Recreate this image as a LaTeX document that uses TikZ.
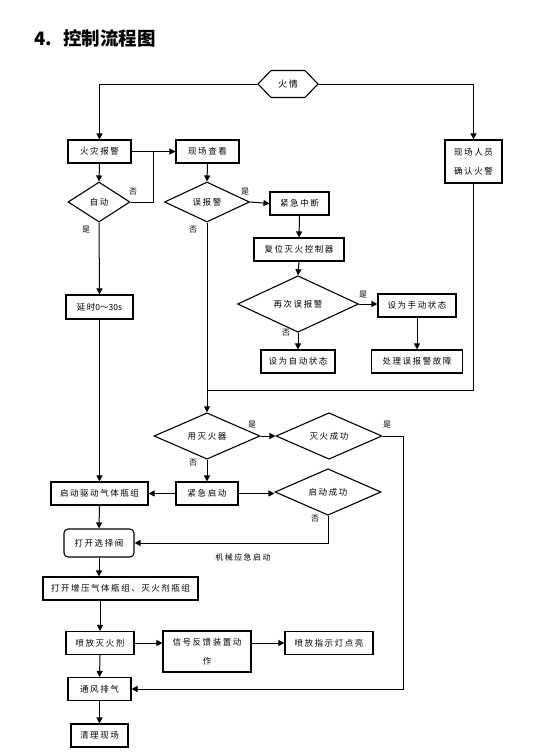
\documentclass[tikz,border=0pt]{standalone}
\usepackage{fontspec}
\setmainfont{Noto Sans CJK SC}
\newfontfamily\boxfont[LetterSpace=18]{Noto Sans CJK SC}
\usetikzlibrary{shapes.geometric,shapes.symbols,arrows.meta}
\tikzset{
	box/.style={draw, line width=1.1pt, inner sep=0pt, minimum height=23pt, align=center, font=\boxfont\fontsize{8.5}{19}\selectfont},
	choice/.style={draw, diamond, line width=1.1pt, inner sep=0pt, font=\boxfont\fontsize{8.5}{10}\selectfont},
	flow/.style={line width=1pt, -{Triangle[length=6pt,width=6pt]}},
	wire/.style={line width=1pt},
	tag/.style={inner sep=0pt, font=\boxfont\fontsize{8}{8}\selectfont}
}

\begin{document}
\begin{tikzpicture}[x=1pt, y=-1pt]
			%%%%% START %%%%%
			\useasboundingbox[fill=white] (0, 0) rectangle (557, 755);
			
			\node[anchor=west, font=\bfseries\fontsize{18.5}{18.5}\selectfont] (title) at (31, 38) {4.\hspace{11pt}控制流程图};
			
			\node[draw, signal, signal to=west and east, signal pointer angle=92, line width=1.1pt, inner sep=0pt, minimum width=60pt, minimum height=27pt, font=\boxfont\fontsize{9}{10}\selectfont] (fire) at (288, 84) {火情};
			
			\node[box, minimum width=63pt] (alarm) at (99.5, 151.5) {火灾报警};
			\node[box, minimum width=63pt] (check) at (207.5, 151.5) {现场查看};
			\node[box, minimum width=57pt, minimum height=43pt] (confirm) at (473.5, 161.5) {现场人员\\确认火警};
			
			\node[choice, minimum width=62pt, minimum height=40pt] (auto) at (99, 202) {自动};
			\node[choice, minimum width=85pt, minimum height=40pt] (false) at (207, 202) {误报警};
			\node[box, minimum width=59pt] (stop) at (299.5, 203.5) {紧急中断};
			\node[box, minimum width=90pt] (reset) at (299, 249.5) {复位灭火控制器};
			\node[choice, minimum width=121pt, minimum height=40pt] (again) at (298, 304) {再次误报警};
			\node[box, minimum width=78pt] (manual) at (417, 305.5) {设为手动状态};
			\node[box, minimum width=74pt] (autoset) at (298, 361.5) {设为自动状态};
			\node[box, minimum width=91pt] (fault) at (417, 361.5) {处理误报警故障};
			\node[box, minimum width=67pt, minimum height=24pt] (delay) at (99.5, 307) {延时{\rmfamily 0～30s}};
			
			\node[choice, minimum width=106pt, minimum height=41pt] (ext) at (207, 436) {用灭火器};
			\node[choice, minimum width=106pt, minimum height=41pt] (success) at (329, 436) {灭火成功};
			\node[box, minimum width=62pt] (emerg) at (207, 493.5) {紧急启动};
			\node[box, minimum width=97pt] (drive) at (99.5, 493.5) {启动驱动气体瓶组};
			\node[choice, minimum width=106pt, minimum height=41pt] (start) at (328, 492) {启动成功};
			
			\node[box, rounded corners=4pt, minimum width=70pt, minimum height=28pt] (valve) at (99, 543) {打开选择阀};
			\node[tag] (manualstart) at (243, 557) {机械应急启动};
			\node[box, minimum width=155pt] (open) at (120.5, 588.5) {打开增压气体瓶组、灭火剂瓶组};
			\node[box, minimum width=68pt] (spray) at (100, 643) {喷放灭火剂};
			\node[box, minimum width=88pt, minimum height=41pt] (signal) at (207, 651.5) {信号反馈装置动\\作};
			\node[box, minimum width=88pt] (lamp) at (329, 643) {喷放指示灯点亮};
			\node[box, minimum width=63pt] (vent) at (99.5, 689) {通风排气};
			\node[box, minimum width=57pt] (clean) at (99.5, 735.5) {清理现场};
			
			% yes / no
			\node[tag] (autono) at (133, 192) {否};
			\node[tag] (autoyes) at (86, 230) {是};
			\node[tag] (falseyes) at (245, 192) {是};
			\node[tag] (falseno) at (193, 230) {否};
			\node[tag] (againyes) at (363, 295) {是};
			\node[tag] (againno) at (286, 333) {否};
			\node[tag] (extyes) at (252, 425) {是};
			\node[tag] (extno) at (193, 463) {否};
			\node[tag] (successyes) at (387, 425) {是};
			\node[tag] (startno) at (315, 519) {否};
			
			\coordinate (j1) at (153, 151.5);
			\coordinate (j2) at (207, 390);
			
			\draw[flow] (fire.west) -| (alarm.north);
			\draw[flow] (fire.east) -| (confirm.north);
			\draw[flow] (alarm.east) -- (check.west);
			\draw[wire] (auto.east) -| (j1);
			\draw[flow] (alarm.south) -- (auto.north);
			\draw[flow] (check.south) -- (false.north);
			\draw[flow] (false.east) -- (stop.west);
			\draw[flow] (stop.south) -- (reset.north);
			\draw[flow] (reset.south) -- (again.north);
			\draw[flow] (again.east) -- (manual.west |- again.east);
			\draw[flow] (again.south) -- (autoset.north);
			\draw[flow] (manual.south) -- (fault.north);
			\draw[flow] (auto.south) -- (delay.north);
			\draw[flow] (delay.south) -- (drive.north);
			\draw[flow] (false.south) -- (ext.north);
			\draw[wire] (confirm.south) |- (j2);
			\draw[flow] (ext.east) -- (success.west);
			\draw[flow] (ext.south) -- (emerg.north);
			\draw[flow] (success.east) -- ++(21, 0) |- (vent.east);
			\draw[flow] (emerg.west) -- (drive.east);
			\draw[flow] (emerg.east) -- (start.west |- emerg.east);
			\draw[flow] (start.south) |- (valve.east);
			\draw[flow] (drive.south) -- (valve.north);
			\draw[flow] (valve.south) -- (valve.south |- open.north);
			\draw[flow] (spray.north |- open.south) -- (spray.north);
			\draw[flow] (spray.east) -- (signal.west |- spray.east);
			\draw[flow] (signal.east |- lamp.west) -- (lamp.west);
			\draw[flow] (spray.south) -- (vent.north);
			\draw[flow] (vent.south) -- (clean.north);
			
			%%%%% END %%%%%
\end{tikzpicture}
\end{document}
